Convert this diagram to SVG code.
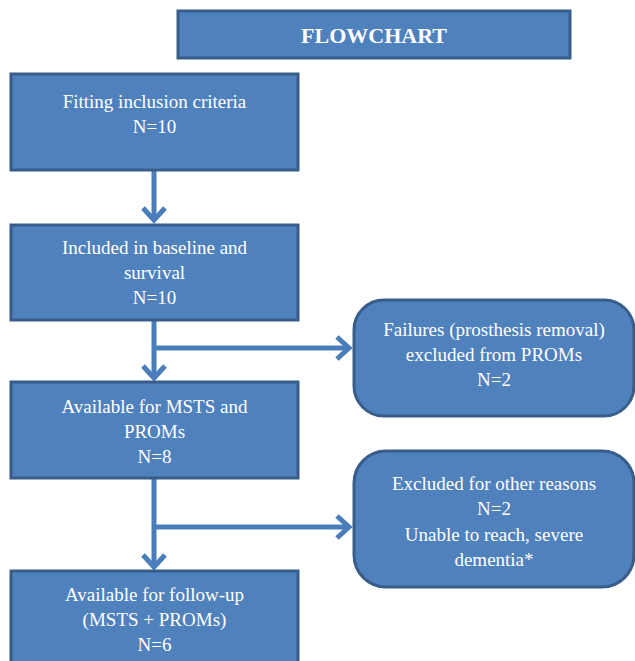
<svg xmlns="http://www.w3.org/2000/svg" width="635" height="661" viewBox="0 0 635 661">
<defs>
<style>
.box{fill:#4F81BD;stroke:#385D8A;stroke-width:3}
.t{font-size:19px;fill:#FFFFFF;text-anchor:middle}
.title{font-size:22px;font-weight:bold;fill:#FFFFFF;text-anchor:middle}
.c{fill:none;stroke:#4A7EBB;stroke-width:5}
</style>
<marker id="chev" viewBox="0 0 26 26" refX="23" refY="13" markerWidth="26" markerHeight="26" markerUnits="userSpaceOnUse" orient="auto" overflow="visible">
<path d="M11,2 L23,13 L11,24" fill="none" stroke="#4A7EBB" stroke-width="5" stroke-linecap="butt" stroke-linejoin="miter"/>
</marker>
</defs>
<rect width="635" height="661" fill="#FFFFFF"/>
<g id="connectors">
<path class="c" d="M154,170 L154,220" marker-end="url(#chev)"/>
<path class="c" d="M154,320 L154,378" marker-end="url(#chev)"/>
<path class="c" d="M154,348 L349,348" marker-end="url(#chev)"/>
<path class="c" d="M154,478 L154,567" marker-end="url(#chev)"/>
<path class="c" d="M154,527 L349,527" marker-end="url(#chev)"/>
</g>
<g font-family="Liberation Serif, Times New Roman, DejaVu Serif, serif">
<g id="title">
<rect class="box" x="178" y="11" width="392" height="47"/>
<text class="title" x="374" y="43">FLOWCHART</text>
</g>
<g id="n1">
<rect class="box" x="11" y="74" width="287" height="96"/>
<text class="t" x="154.5" y="108">Fitting inclusion criteria</text>
<text class="t" x="154.5" y="133">N=10</text>
</g>
<g id="n2">
<rect class="box" x="11" y="225" width="287" height="95"/>
<text class="t" x="154.5" y="254">Included in baseline and</text>
<text class="t" x="154.5" y="279">survival</text>
<text class="t" x="154.5" y="304">N=10</text>
</g>
<g id="n3">
<rect class="box" x="11" y="382" width="287" height="96"/>
<text class="t" x="154.5" y="413">Available for MSTS and</text>
<text class="t" x="154.5" y="438">PROMs</text>
<text class="t" x="154.5" y="463">N=8</text>
</g>
<g id="n4">
<rect class="box" x="11" y="571" width="287" height="100"/>
<text class="t" x="154.5" y="601">Available for follow-up</text>
<text class="t" x="154.5" y="626">(MSTS + PROMs)</text>
<text class="t" x="154.5" y="651">N=6</text>
</g>
<g id="n5">
<rect class="box" x="354" y="300" width="280" height="116" rx="30" ry="30"/>
<text class="t" x="494" y="336">Failures (prosthesis removal)</text>
<text class="t" x="494" y="361">excluded from PROMs</text>
<text class="t" x="494" y="386">N=2</text>
</g>
<g id="n6">
<rect class="box" x="354" y="451" width="280" height="136" rx="32" ry="32"/>
<text class="t" x="494" y="490">Excluded for other reasons</text>
<text class="t" x="494" y="515">N=2</text>
<text class="t" x="494" y="541">Unable to reach, severe</text>
<text class="t" x="494" y="566">dementia*</text>
</g>
</g>
</svg>
